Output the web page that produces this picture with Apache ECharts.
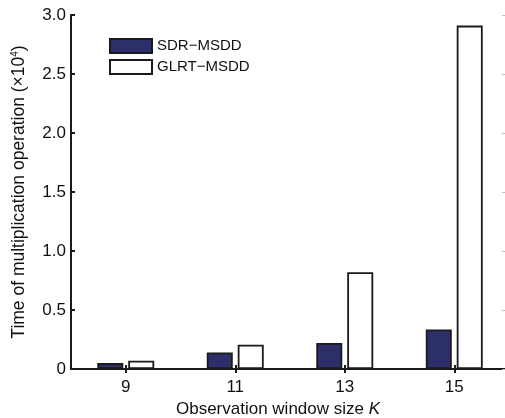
<!DOCTYPE html>
<html>
<head>
<meta charset="utf-8">
<script src="https://cdn.jsdelivr.net/npm/echarts@6/dist/echarts.min.js"></script>
<style>
  html, body { margin: 0; padding: 0; background: #fff; overflow: hidden; }
  /* a bit wider than the window: the right frame edge sits just off-screen */
  #chart { width: 516px; height: 418px; }
</style>
</head>
<body>
<div id="chart"></div>
<script>
// window sizes K
var categories = ['9', '11', '13', '15'];
// multiplications, in units of 10^4
var sdrMsdd = [0.05, 0.14, 0.22, 0.335];
var glrtMsdd = [0.07, 0.205, 0.82, 2.91];
var yTicks = ['0', '0.5', '1.0', '1.5', '2.0', '2.5', '3.0'];

var chart = echarts.init(document.getElementById('chart'));

var font = 'Liberation Sans, Arial, sans-serif';
var lineColor = '#1a1a1a';

var axisLine = { show: true, lineStyle: { color: lineColor, width: 2 } };

var option = {
  backgroundColor: '#fff',
  animation: false,
  grid: { left: 71, top: 15, bottom: 49, right: 7, outerBoundsMode: 'none' },
  legend: {
    orient: 'vertical',
    left: 104,
    top: 33,
    itemWidth: 42,
    itemHeight: 14,
    itemGap: 5,
    icon: 'rect',
    textStyle: { fontFamily: font, fontSize: 15, color: '#111' },
    data: ['SDR\u2212MSDD', 'GLRT\u2212MSDD']
  },
  xAxis: [{
    type: 'category',
    data: categories,
    position: 'bottom',
    axisLine: axisLine,
    axisTick: { show: true, inside: true, alignWithLabel: true, length: 4, lineStyle: { color: lineColor, width: 2 } },
    axisLabel: { margin: 10, fontFamily: font, fontSize: 17, color: '#111' },
    name: '{a|Observation window size }{i|K}',
    nameLocation: 'middle',
    nameGap: 30,
    nameTextStyle: {
      padding: [0, 24, 0, 0],
      rich: {
        a: { fontFamily: font, fontSize: 17, color: '#111' },
        i: { fontFamily: font, fontSize: 17, color: '#111', fontStyle: 'italic' }
      }
    }
  }, {
    type: 'category',
    data: categories,
    position: 'top',
    axisLine: axisLine,
    axisTick: { show: true, inside: true, alignWithLabel: true, length: 4, lineStyle: { color: lineColor, width: 2 } },
    axisLabel: { show: false }
  }],
  yAxis: [{
    type: 'value',
    min: 0,
    max: 3,
    interval: 0.5,
    position: 'left',
    axisLine: axisLine,
    axisTick: { show: true, inside: true, length: 4, lineStyle: { color: lineColor, width: 2 } },
    splitLine: { show: false },
    axisLabel: {
      margin: 5,
      fontFamily: font,
      fontSize: 17,
      color: '#111',
      formatter: function (v) { return yTicks[Math.round(v / 0.5)]; }
    },
    name: '{a|Time of multiplication operation (\u00d710}{s|4}{a|)}',
    nameLocation: 'middle',
    nameGap: 43,
    nameTextStyle: {
      rich: {
        a: { fontFamily: font, fontSize: 17.5, color: '#111' },
        s: { fontFamily: font, fontSize: 10, color: '#111', verticalAlign: 'top', padding: [0, 0, 8, 0] }
      }
    }
  }, {
    type: 'value',
    min: 0,
    max: 3,
    interval: 0.5,
    position: 'right',
    axisLine: { show: false },
    axisTick: { show: true, inside: true, length: 7, lineStyle: { color: '#bbb', width: 1 } },
    splitLine: { show: false },
    axisLabel: { show: false }
  }],
  series: [{
    name: 'SDR\u2212MSDD',
    type: 'bar',
    data: sdrMsdd,
    barWidth: 26,
    barGap: '19%',
    itemStyle: { color: '#2d2f6a', borderColor: lineColor, borderWidth: 1.8 }
  }, {
    name: 'GLRT\u2212MSDD',
    type: 'bar',
    data: glrtMsdd,
    barWidth: 26,
    itemStyle: { color: '#ffffff', borderColor: lineColor, borderWidth: 1.8 }
  }]
};

chart.setOption(option);
</script>
</body>
</html>
